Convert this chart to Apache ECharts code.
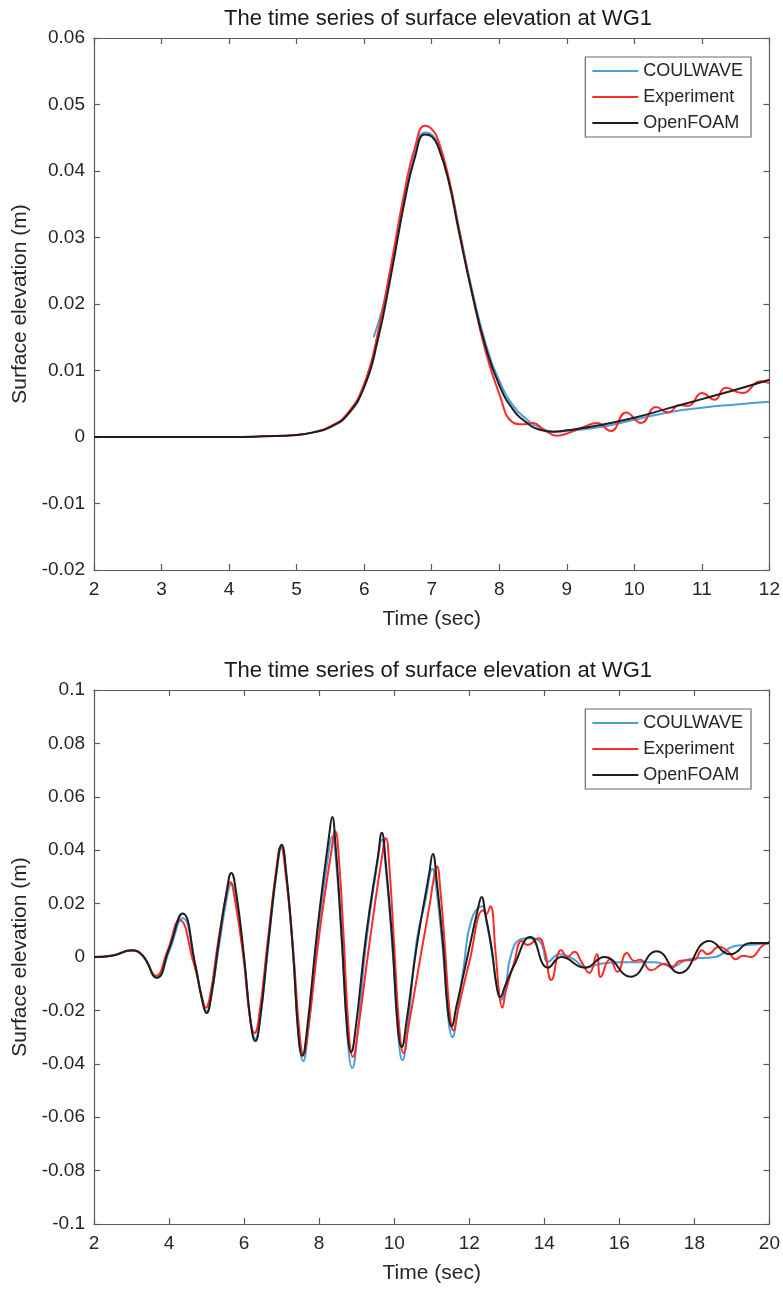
<!DOCTYPE html>
<html>
<head>
<meta charset="utf-8">
<script src="https://cdn.jsdelivr.net/npm/echarts@6/dist/echarts.min.js"></script>
<style>html,body{margin:0;padding:0;background:#fff}#c{width:783px;height:1294px}</style>
</head>
<body>
<div id="c"></div>
<script>
// ---------- data ----------
const seriesNames = ['COULWAVE', 'Experiment', 'OpenFOAM'];
const titleText = 'The time series of surface elevation at WG1';

// top panel: solitary wave, t = 2..12 s
const topCoulwave = [[6.14,0.015],[6.3,0.0205],[6.5,0.0305],[6.7,0.0405],[6.9,0.0458],[7.0,0.0455],[7.1,0.0438],[7.25,0.0388],[7.4,0.0315],[7.6,0.022],[7.8,0.014],[8.0,0.0085],[8.2,0.0048],[8.4,0.0027],[8.6,0.0014],[8.8,0.0008],[9.0,0.0009],[9.5,0.0015],[10.0,0.0026],[10.5,0.0037],[11.0,0.0044],[11.5,0.0049],[12.0,0.0053]];
const topExperiment = [[2,0],[3,0],[4,0],[4.5,0.0001],[5,0.0003],[5.25,0.0007],[5.5,0.0016],[5.75,0.0035],[6.0,0.008],[6.2,0.0155],[6.4,0.026],[6.6,0.037],[6.75,0.0435],[6.9,0.0468],[7.0,0.0463],[7.1,0.0445],[7.25,0.039],[7.4,0.0315],[7.6,0.0215],[7.8,0.0128],[8.0,0.0065],[8.2,0.0022],[8.35,0.0019],[8.5,0.0021],[8.65,0.0012],[8.85,0.0002],[9.05,0.0007],[9.25,0.0015],[9.45,0.0021],[9.65,0.0009],[9.88,0.0037],[10.1,0.0021],[10.32,0.0045],[10.5,0.0037],[10.67,0.0048],[10.8,0.0047],[11.0,0.0066],[11.19,0.0056],[11.35,0.0074],[11.6,0.0066],[11.87,0.0084],[12.0,0.0081]];
const topOpenFOAM = [[2,0],[3,0],[4,0],[4.5,0.0001],[5,0.0003],[5.25,0.0007],[5.5,0.0015],[5.75,0.0033],[6.0,0.0075],[6.2,0.0145],[6.4,0.0245],[6.6,0.0355],[6.75,0.042],[6.9,0.0455],[7.0,0.0452],[7.1,0.0435],[7.25,0.0385],[7.4,0.031],[7.6,0.0215],[7.8,0.0135],[8.0,0.0078],[8.2,0.0042],[8.4,0.0022],[8.6,0.0011],[8.8,0.0008],[9.0,0.001],[9.5,0.0018],[10.0,0.0029],[10.5,0.0043],[11.0,0.0057],[11.5,0.0071],[12.0,0.0086]];

// bottom panel: wave packet, t = 2..20 s
const botCoulwave = [[2.0,0],[2.5,0.0006],[3.0,0.0024],[3.3,0.0003],[3.68,-0.0078],[4.0,0.002],[4.36,0.0145],[4.7,-0.003],[4.88,-0.016],[5.0,-0.0205],[5.12,-0.015],[5.33,0.004],[5.54,0.022],[5.66,0.0275],[5.78,0.021],[6.0,-0.001],[6.18,-0.025],[6.3,-0.0306],[6.42,-0.024],[6.65,0.005],[6.88,0.033],[7.0,0.041],[7.12,0.031],[7.3,0.002],[7.47,-0.032],[7.57,-0.039],[7.69,-0.030],[7.95,0.006],[8.23,0.037],[8.35,0.045],[8.45,0.036],[8.6,0.006],[8.78,-0.034],[8.88,-0.0416],[9.0,-0.032],[9.25,0.005],[9.56,0.036],[9.67,0.044],[9.77,0.034],[9.95,0.004],[10.12,-0.031],[10.22,-0.0386],[10.34,-0.029],[10.6,0.006],[10.83,0.021],[11.02,0.033],[11.12,0.026],[11.3,0.002],[11.45,-0.024],[11.55,-0.030],[11.67,-0.022],[11.85,-0.004],[12.06,0.014],[12.35,0.019],[12.45,0.014],[12.6,0.002],[12.75,-0.012],[12.85,-0.016],[12.97,-0.011],[13.1,0.0],[13.35,0.0065],[13.6,0.007],[13.9,0.0055],[14.1,-0.0018],[14.4,0.001],[14.8,-0.001],[15.1,-0.004],[15.5,-0.0025],[16.05,-0.002],[16.95,-0.002],[17.4,-0.0035],[17.85,-0.0008],[18.55,0.0],[19.05,0.004],[19.4,0.0045],[20,0.005]];
const botExperiment = [[2.0,0],[2.5,0.0005],[3.0,0.0024],[3.3,0.0005],[3.65,-0.007],[3.95,0.002],[4.28,0.0138],[4.65,-0.002],[4.86,-0.014],[4.98,-0.019],[5.1,-0.014],[5.3,0.005],[5.51,0.022],[5.63,0.028],[5.75,0.022],[5.98,0.0],[6.16,-0.023],[6.28,-0.0285],[6.4,-0.022],[6.63,0.006],[6.86,0.033],[6.98,0.0415],[7.1,0.032],[7.3,0.004],[7.48,-0.029],[7.58,-0.0365],[7.7,-0.028],[8.0,0.008],[8.32,0.039],[8.43,0.047],[8.53,0.036],[8.65,0.008],[8.8,-0.030],[8.9,-0.0374],[9.02,-0.029],[9.35,0.006],[9.67,0.037],[9.78,0.0445],[9.87,0.034],[10.0,0.004],[10.15,-0.029],[10.25,-0.036],[10.37,-0.027],[10.7,0.0],[10.95,0.02],[11.05,0.029],[11.14,0.034],[11.23,0.025],[11.35,0.004],[11.48,-0.021],[11.58,-0.0275],[11.7,-0.02],[12.0,-0.002],[12.38,0.0175],[12.45,0.016],[12.56,0.019],[12.7,0.002],[12.8,-0.014],[12.88,-0.019],[12.97,-0.013],[13.2,-0.002],[13.4,0.006],[13.55,0.0045],[13.85,0.007],[14.0,0.003],[14.19,-0.0086],[14.45,0.0026],[14.62,0.0],[14.8,0.002],[15.0,-0.002],[15.2,-0.006],[15.4,0.001],[15.5,-0.0075],[15.75,-0.0008],[15.95,-0.0055],[16.2,0.0015],[16.4,-0.0015],[16.55,-0.001],[16.85,-0.005],[17.2,-0.0025],[17.4,-0.004],[17.6,-0.0015],[18.0,-0.001],[18.2,0.0025],[18.35,0.001],[18.66,0.0038],[18.9,0.002],[19.1,-0.0008],[19.3,0.0005],[19.5,0.0],[19.8,0.004],[20,0.0056]];
const botOpenFOAM = [[2.0,0],[2.5,0.0006],[3.0,0.0025],[3.3,0.0005],[3.67,-0.0078],[4.0,0.003],[4.36,0.0163],[4.7,-0.003],[4.88,-0.016],[5.0,-0.021],[5.12,-0.015],[5.33,0.006],[5.54,0.025],[5.66,0.0315],[5.78,0.025],[6.0,0.0],[6.18,-0.025],[6.3,-0.0315],[6.42,-0.024],[6.65,0.006],[6.88,0.034],[7.0,0.042],[7.12,0.032],[7.3,0.003],[7.45,-0.030],[7.55,-0.037],[7.67,-0.028],[7.95,0.01],[8.27,0.046],[8.35,0.0524],[8.43,0.043],[8.6,0.008],[8.75,-0.028],[8.85,-0.0356],[8.97,-0.027],[9.25,0.008],[9.57,0.038],[9.67,0.0465],[9.77,0.036],[9.95,0.006],[10.1,-0.027],[10.2,-0.0337],[10.32,-0.025],[10.6,0.004],[10.93,0.031],[11.03,0.0386],[11.13,0.029],[11.3,0.005],[11.43,-0.02],[11.53,-0.026],[11.65,-0.019],[11.95,0.0],[12.23,0.018],[12.33,0.0225],[12.43,0.016],[12.6,0.003],[12.73,-0.011],[12.83,-0.015],[12.95,-0.011],[13.2,-0.003],[13.63,0.0075],[14.1,-0.004],[14.45,0.0],[15.08,-0.004],[15.6,0.0],[16.3,-0.0074],[17.0,0.0022],[17.6,-0.006],[18.4,0.006],[18.96,0.001],[19.5,0.0052],[20,0.0052]];

const topXTicks = {min: 2, max: 12, interval: 1};
const topYTicks = {min: -0.02, max: 0.06, interval: 0.01};
const botXTicks = {min: 2, max: 20, interval: 2};
const botYTicks = {min: -0.1, max: 0.1, interval: 0.02};

// ---------- chart ----------
const FONT = '"Liberation Sans", Arial, Helvetica, sans-serif';
const AX = '#5a5a5a';
const TXT = '#262626';
const colors = ['#4a9fd8', '#ff2a2a', '#1e1e1e'];
const grids = [
  {left: 94, top: 38, width: 678, height: 532},
  {left: 94, top: 690, width: 678, height: 534}
];
function fmt(v){ return String(+v.toFixed(2)); }
function xAx(gi, t, pos, main){
  return {
    type: 'value', gridIndex: gi, position: pos, min: t.min, max: t.max, interval: t.interval,
    name: main ? 'Time (sec)' : '', nameLocation: 'middle', nameGap: 39,
    nameTextStyle: {fontFamily: FONT, fontSize: 21, color: TXT},
    axisLine: {show: true, onZero: false, lineStyle: {color: AX, width: 1.2}},
    axisTick: {show: true, inside: true, length: 6, lineStyle: {color: AX, width: 1.2}},
    axisLabel: {show: main, fontFamily: FONT, fontSize: 19, color: TXT, margin: 10, formatter: fmt},
    splitLine: {show: false}
  };
}
function yAx(gi, t, pos, main){
  return {
    type: 'value', gridIndex: gi, position: pos, min: t.min, max: t.max, interval: t.interval,
    name: main ? 'Surface elevation (m)' : '', nameLocation: 'middle', nameGap: 60, nameRotate: 90,
    nameTextStyle: {fontFamily: FONT, fontSize: 21, color: TXT},
    axisLine: {show: true, onZero: false, lineStyle: {color: AX, width: 1.2}},
    axisTick: {show: true, inside: true, length: 6, lineStyle: {color: AX, width: 1.2}},
    axisLabel: {show: main, fontFamily: FONT, fontSize: 19, color: TXT, margin: 9, formatter: fmt},
    splitLine: {show: false}
  };
}
function mkSeries(name, data, xi, yi, ci){
  return {name, type: 'line', data, xAxisIndex: xi, yAxisIndex: yi, showSymbol: false, symbol: 'none',
    smooth: 0.5, lineStyle: {color: colors[ci], width: 2}, itemStyle: {color: colors[ci]},
    animation: false, z: 2 + ci};
}
function legend(top){
  return {
    orient: 'vertical', right: 32, top: top, align: 'left',
    icon: 'rect', itemWidth: 46, itemHeight: 2, itemGap: 8,
    padding: [5, 8, 5, 7], borderColor: '#6a6a6a', borderWidth: 1.2, backgroundColor: '#fff',
    textStyle: {fontFamily: FONT, fontSize: 18, color: TXT, padding: [0, 0, 0, 0]},
    data: seriesNames.map((n, i) => ({name: n, itemStyle: {color: colors[i]}}))
  };
}
const chart = echarts.init(document.getElementById('c'), null, {renderer: 'canvas'});
chart.setOption({
  animation: false,
  backgroundColor: '#fff',
  title: [
    {text: titleText, left: 433, top: 3, textAlign: 'center', textStyle: {fontFamily: FONT, fontSize: 22, fontWeight: 'normal', color: '#1a1a1a'}},
    {text: titleText, left: 433, top: 655, textAlign: 'center', textStyle: {fontFamily: FONT, fontSize: 22, fontWeight: 'normal', color: '#1a1a1a'}}
  ],
  grid: grids,
  legend: [legend(57), legend(709)],
  xAxis: [xAx(0, topXTicks, 'bottom', true), xAx(0, topXTicks, 'top', false), xAx(1, botXTicks, 'bottom', true), xAx(1, botXTicks, 'top', false)],
  yAxis: [yAx(0, topYTicks, 'left', true), yAx(0, topYTicks, 'right', false), yAx(1, botYTicks, 'left', true), yAx(1, botYTicks, 'right', false)],
  series: [
    mkSeries(seriesNames[0], topCoulwave, 0, 0, 0),
    mkSeries(seriesNames[1], topExperiment, 0, 0, 1),
    mkSeries(seriesNames[2], topOpenFOAM, 0, 0, 2),
    mkSeries(seriesNames[0], botCoulwave, 2, 2, 0),
    mkSeries(seriesNames[1], botExperiment, 2, 2, 1),
    mkSeries(seriesNames[2], botOpenFOAM, 2, 2, 2)
  ]
});
</script>
</body>
</html>
